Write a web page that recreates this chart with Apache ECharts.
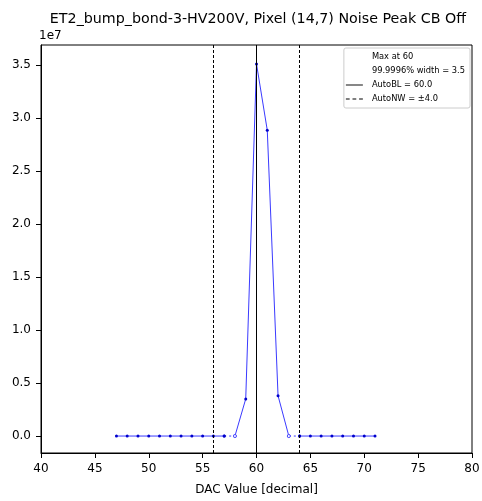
<!DOCTYPE html>
<html><head><meta charset="utf-8">
<script src="https://cdn.jsdelivr.net/npm/echarts@6/dist/echarts.min.js"></script>
<style>html,body{margin:0;padding:0;background:#fff}#c{width:482px;height:501px}</style>
</head><body><div id="c"></div>
<script>
// DAC values and noise counts (units of 1e7)
const dac = [47,48,49,50,51,52,53,54,55,56,57,58,59,60,61,62,63,64,65,66,67,68,69,70,71];
const counts = [0,0,0,0,0,0,0,0,0,0,0,0,0.35,3.51,2.885,0.38,0,0,0,0,0,0,0,0,0];
const hollowDac = [58,63];
const baseline = 60;
const noiseWidth = 4;
const xTicks = [40,45,50,55,60,65,70,75,80];
const yTicks = [0,0.5,1.0,1.5,2.0,2.5,3.0,3.5];

const pts = dac.map((d,i)=>[d,counts[i]]);
const idx = d => dac.indexOf(d);
const seg = (a,b) => pts.slice(idx(a), idx(b)+1);
const font = 'DejaVu Sans';
const blue = '#3a3aff';
const markerStyle = {color:'#0000cc'};
function lineSeries(name, data, dashed){
  return {name:name, type:'line', data:data, symbol:'circle', symbolSize:3,
    itemStyle:markerStyle, lineStyle:{color:blue, width:1, type: dashed?[2,3]:'solid'},
    silent:true, animation:false, z:3};
}
const s1 = lineSeries('d1', seg(47,57), false);
const s2 = lineSeries('d2', seg(57,58), true);
const s3 = lineSeries('d3', seg(58,63), false);
const s4 = lineSeries('d4', seg(63,64), true);
const s5 = lineSeries('d5', seg(64,71), false);
[s2,s3,s4].forEach(s=>{
  s.data = s.data.map(p => hollowDac.includes(p[0]) ?
    {value:p, itemStyle:{color:'#fff', borderColor:blue, borderWidth:0.8}} : p);
});

const solidIcon = 'path://M0,0 H18 V1 H0 Z';
const dashIcon = 'path://M0,0 H4 V1 H0 Z M7,0 H11 V1 H7 Z M14,0 H18 V1 H14 Z';

const option = {
  animation:false,
  backgroundColor:'#fff',
  title:{text:'ET2_bump_bond-3-HV200V, Pixel (14,7) Noise Peak CB Off', left:253, textAlign:'center', top:7,
    textStyle:{fontFamily:font, fontSize:14.25, fontWeight:'normal', color:'#000'}},
  grid:{left:41, right:10, top:45, bottom:48, outerBoundsMode:'none', containLabel:false,
    show:true, borderColor:'#000', borderWidth:1, backgroundColor:'transparent'},
  legend:{orient:'vertical', right:12, top:48, itemWidth:17, itemHeight:1, itemGap:6,
    backgroundColor:'#fff', borderColor:'#ccc', borderWidth:1, borderRadius:2, padding:[5,5,5,2],
    textStyle:{fontFamily:font, fontSize:8.3, color:'#000', padding:[0,0,0,4]},
    data:[{name:'Max at 60', icon:'none'},{name:'99.9996% width = 3.5', icon:'none'},
      {name:'AutoBL = 60.0', icon:solidIcon},{name:'AutoNW = ±4.0', icon:dashIcon}]},
  xAxis:{type:'value', min:40, max:80, interval:5, name:'DAC Value [decimal]', nameLocation:'middle', nameGap:31,
    nameTextStyle:{fontFamily:font, fontSize:12, color:'#000'},
    axisLine:{onZero:false, lineStyle:{color:'#000'}}, axisTick:{length:5, lineStyle:{color:'#000'}},
    axisLabel:{fontFamily:font, fontSize:12, color:'#000', margin:10}, splitLine:{show:false}},
  yAxis:{type:'value', min:-0.16, max:3.689, name:'1e7', nameLocation:'end', nameGap:3,
    nameTextStyle:{fontFamily:font, fontSize:12, color:'#000', align:'left', padding:[0,0,0,-2]},
    axisLine:{show:true, onZero:false, lineStyle:{color:'#000'}},
    axisTick:{show:true, length:5, customValues:yTicks, lineStyle:{color:'#000'}},
    axisLabel:{fontFamily:font, fontSize:12, color:'#000', margin:10, customValues:yTicks, formatter:v=>v.toFixed(1)},
    splitLine:{show:false}},
  series:[
    s1,s2,s3,s4,s5,
    {name:'Max at 60', type:'line', data:[], symbol:'none', lineStyle:{opacity:0}},
    {name:'99.9996% width = 3.5', type:'line', data:[], symbol:'none', lineStyle:{opacity:0}},
    {name:'AutoBL = 60.0', type:'line', data:[], symbol:'none', itemStyle:{color:'#000'}, lineStyle:{color:'#000', width:1},
      markLine:{silent:true, symbol:'none', label:{show:false}, lineStyle:{color:'#000', width:1, type:'solid'},
        data:[{xAxis:baseline}]}},
    {name:'AutoNW = ±4.0', type:'line', data:[], symbol:'none', itemStyle:{color:'#000'}, lineStyle:{color:'#000', width:1, type:[3,2]},
      markLine:{silent:true, symbol:'none', label:{show:false}, lineStyle:{color:'#000', width:1, type:[3,2]},
        data:[{xAxis:baseline-noiseWidth},{xAxis:baseline+noiseWidth}]}}
  ]
};
const chart = echarts.init(document.getElementById('c'), null, {renderer:'canvas'});
chart.setOption(option);
</script></body></html>
